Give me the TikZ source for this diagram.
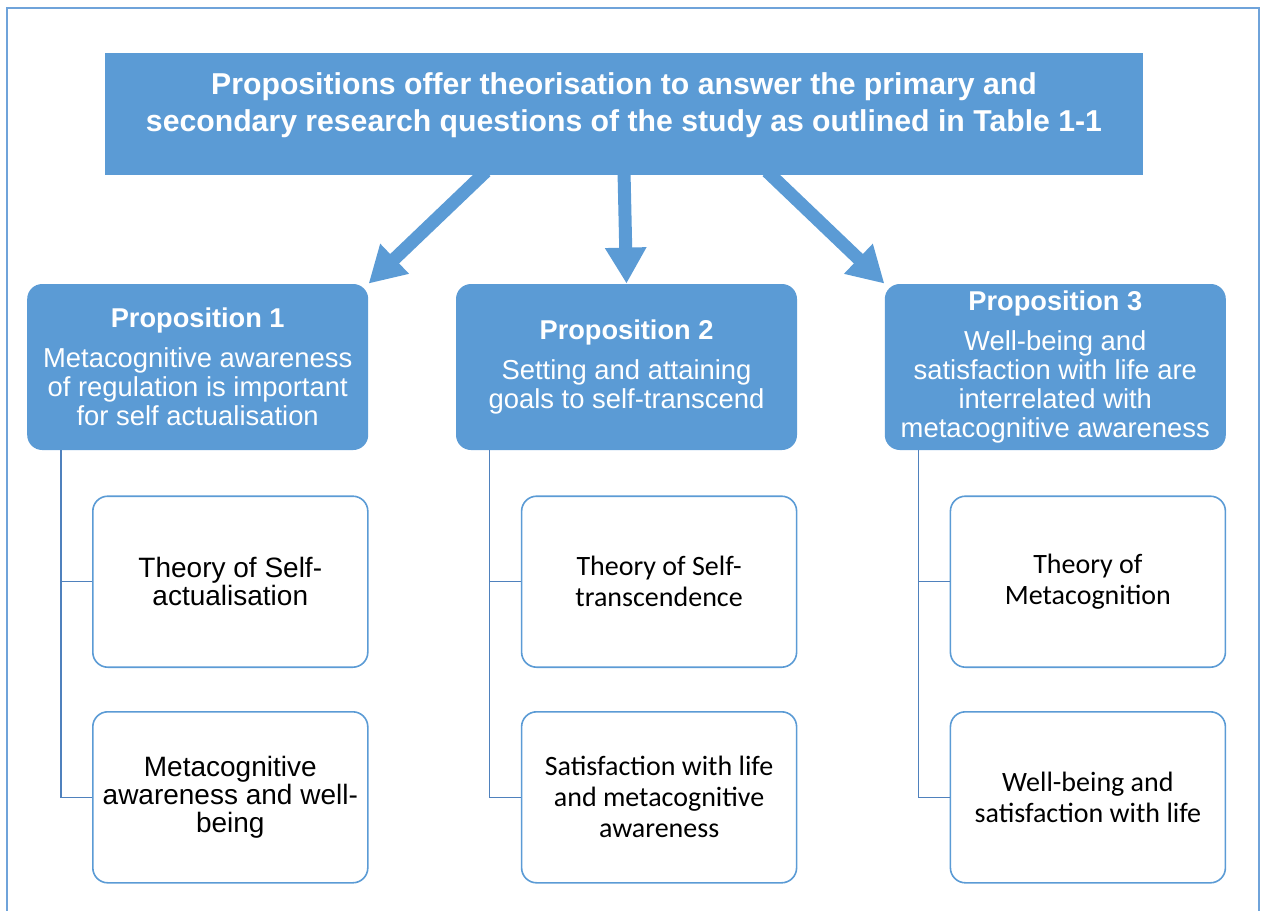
\documentclass[tikz,border=0pt]{standalone}
\usepackage{fontspec}
\setmainfont{Liberation Sans}
\newfontfamily\calibri{Carlito}
\usetikzlibrary{positioning}
\usetikzlibrary{arrows.meta}
\definecolor{propblue}{HTML}{5B9BD5}
\definecolor{linkblue}{HTML}{4F81BD}
\definecolor{frameblue}{HTML}{6FA3DA}

\begin{document}
\begin{tikzpicture}[x=0.5pt, y=-0.5pt,
			headbox/.style = {fill=propblue, minimum width=519pt, minimum height=61pt, inner sep=0pt},
			headtext/.style = {text=white, align=center, font=\fontsize{15.1}{18.5}\selectfont\bfseries},
			propbox/.style = {fill=propblue, rounded corners=7.5pt, minimum width=170.5pt,
				minimum height=83pt, inner sep=2pt, text=white, align=center,
				font=\fontsize{13.7}{14.5}\selectfont},
			theorybox/.style = {draw=propblue, line width=0.8pt, rounded corners=7.5pt, fill=white,
				minimum width=137.5pt, minimum height=85.5pt, align=center},
			arialtext/.style = {font=\fontsize{14}{14}\selectfont},
			calibritext/.style = {font=\calibri\fontsize{14}{15.5}\selectfont},
			bigarrow/.style = {draw=propblue, line width=6.5pt, -{Triangle[width=19.5pt, length=18pt]}},
			link/.style = {draw=linkblue, line width=0.75pt}
			]
			\useasboundingbox (0,0) rectangle (1262,910);
			\clip (0,0) rectangle (1262,910);
			\draw[frameblue, line width=1.2pt] (7,8) rectangle (1259,940);
			
			\node (head) [headbox] at (624,114) {};
			\node (headtxt) [headtext] at ([yshift=4.5pt]head.center)
			{Propositions offer theorisation to answer the primary and\\
				secondary research questions of the study as outlined in Table 1-1};
			
			\node (p2) [propbox] at (626.5,367)
			{{\bfseries\fontsize{13.6}{14.5}\selectfont Proposition 2}\\[5.5pt]
				Setting and attaining\\ goals to self-transcend};
			\node (p1) [propbox, left = 43.5pt of p2]
			{{\bfseries\fontsize{13.6}{14.5}\selectfont Proposition 1}\\[5.5pt]
				Metacognitive awareness\\ of regulation is important\\ for self actualisation};
			\node (p3) [propbox, right = 43.5pt of p2]
			{{\bfseries\fontsize{13.6}{14.5}\selectfont Proposition 3}\\[5.5pt]
				Well-being and\\ satisfaction with life are\\ interrelated with\\ metacognitive awareness};
			
			\node (t1a) [theorybox, arialtext, below left = 22.5pt and 0pt of p1.south east]
			{Theory of Self-\\ actualisation};
			\node (t1b) [theorybox, arialtext, below = 21.5pt of t1a]
			{Metacognitive\\ awareness and well-\\ being};
			\node (t2a) [theorybox, calibritext, below left = 22.5pt and 0pt of p2.south east]
			{Theory of Self-\\ transcendence};
			\node (t2b) [theorybox, calibritext, below = 21.5pt of t2a]
			{Satisfaction with life\\ and metacognitive\\ awareness};
			\node (t3a) [theorybox, calibritext, below left = 22.5pt and 0pt of p3.south east]
			{Theory of\\ Metacognition};
			\node (t3b) [theorybox, calibritext, below = 21.5pt of t3a]
			{Well-being and\\ satisfaction with life};
			
			\path [link]
			([xshift=17pt]p1.south west) edge[to path={|- (\tikztotarget)}] (t1a.west)
			([xshift=17pt]p1.south west) edge[to path={|- (\tikztotarget)}] (t1b.west)
			([xshift=17pt]p2.south west) edge[to path={|- (\tikztotarget)}] (t2a.west)
			([xshift=17pt]p2.south west) edge[to path={|- (\tikztotarget)}] (t2b.west)
			([xshift=17pt]p3.south west) edge[to path={|- (\tikztotarget)}] (t3a.west)
			([xshift=17pt]p3.south west) edge[to path={|- (\tikztotarget)}] (t3b.west);
			
			\draw[bigarrow] ([xshift=-69pt, yshift=2pt]head.south) -- (p1.north east);
			\draw[bigarrow] ([yshift=2pt]head.south) -- (p2.north);
			\draw[bigarrow] ([xshift=71.5pt, yshift=2pt]head.south) -- (p3.north west);
		\end{tikzpicture}
\end{document}
